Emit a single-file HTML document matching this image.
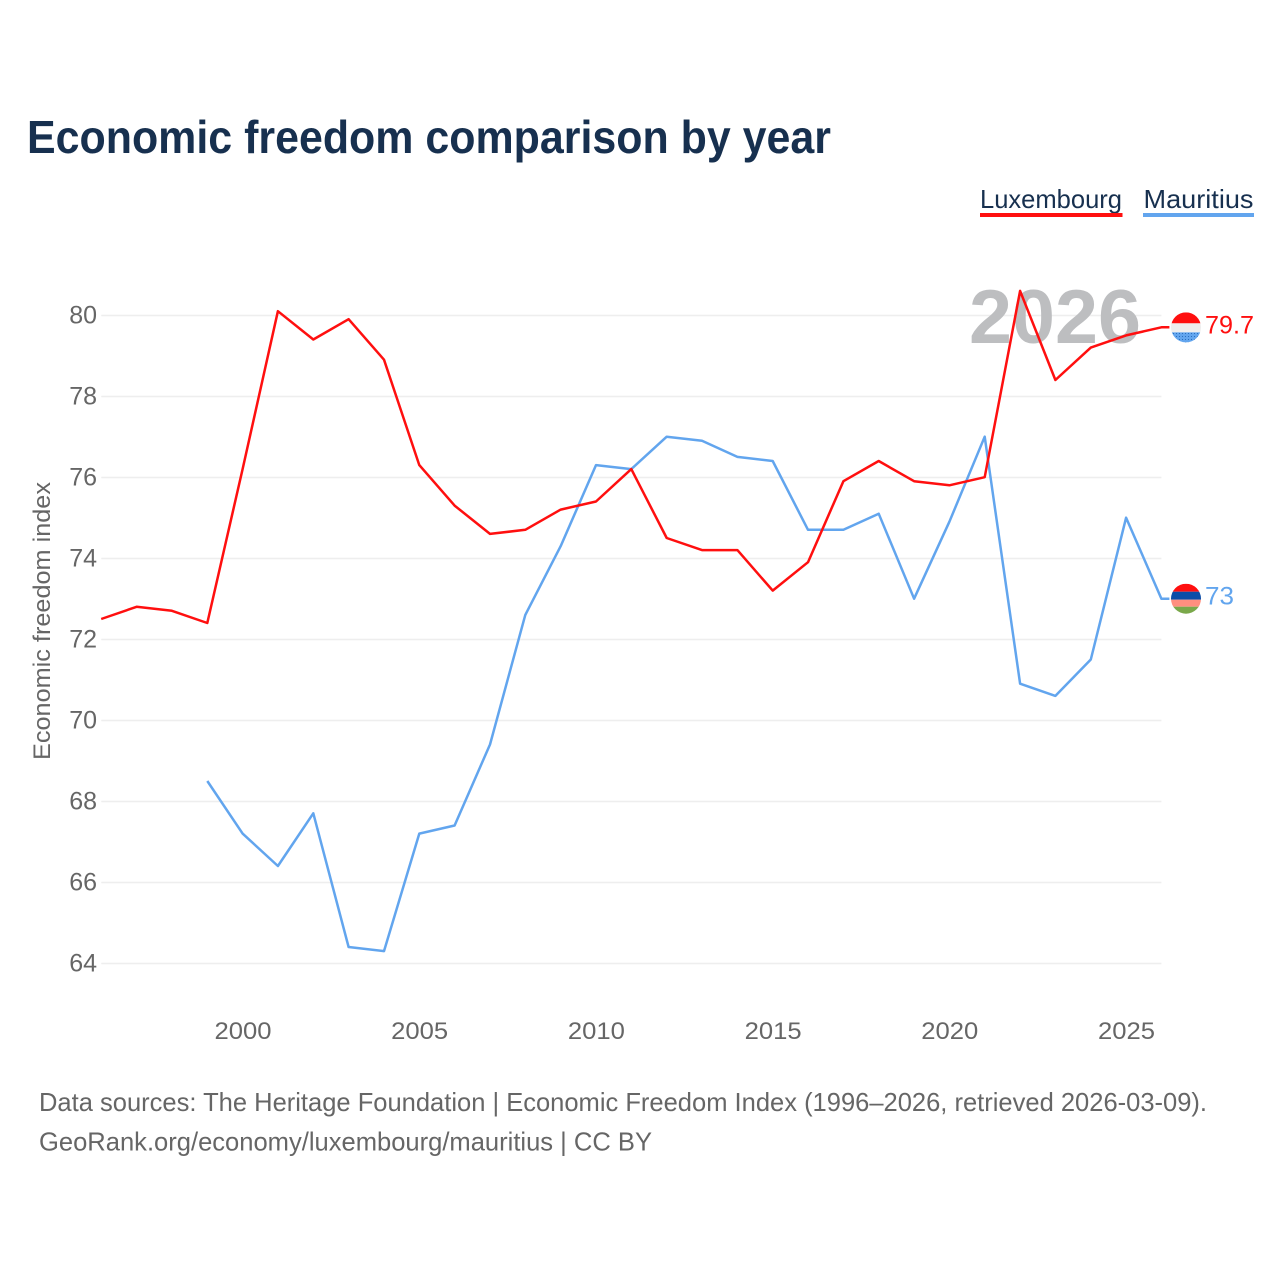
<!DOCTYPE html>
<html lang="en">
<head>
<meta charset="utf-8">
<title>Economic freedom comparison by year</title>
<style>
html,body{margin:0;padding:0;background:#fff;width:1280px;height:1280px;overflow:hidden}
svg{display:block}
text{font-family:"Liberation Sans",sans-serif}
</style>
</head>
<body>
<svg id="chart" xmlns="http://www.w3.org/2000/svg" width="1280" height="1280" viewBox="0 0 1280 1280">
  <defs>
    <clipPath id="flag-clip-lu"><circle id="clip-lu" cx="1186" cy="327" r="15"/></clipPath>
    <clipPath id="flag-clip-mu"><circle id="clip-mu" cx="1186" cy="598" r="15"/></clipPath>
    <pattern id="dots" width="3" height="3" patternUnits="userSpaceOnUse"><rect width="3" height="3" fill="#62a5ee"/><rect width="1" height="1" fill="#2a6fbf"/></pattern>
  </defs>
  <rect width="1280" height="1280" fill="#fff"/>
  <text x="27" y="153" font-size="46" font-weight="700" fill="#17304f" textLength="804" lengthAdjust="spacingAndGlyphs">Economic freedom comparison by year</text>

  <text x="980" y="208" font-size="26" fill="#17304f" textLength="142" lengthAdjust="spacingAndGlyphs">Luxembourg</text>
  <rect x="980" y="213" width="142.500" height="4" fill="#ff0f0f"/>
  <text x="1143.500" y="208" font-size="26" fill="#17304f" textLength="110" lengthAdjust="spacingAndGlyphs">Mauritius</text>
  <rect x="1143" y="213" width="111" height="4" fill="#62a5ee"/>

  <g id="grid"></g>
  <text x="969" y="343" font-size="76" font-weight="700" fill="#bdbec0" textLength="172" lengthAdjust="spacingAndGlyphs">2026</text>
  <g id="y-ticks"></g>
  <g id="x-ticks"></g>
  <text transform="translate(50 621) rotate(-90)" text-anchor="middle" font-size="24" fill="#666" textLength="278" lengthAdjust="spacingAndGlyphs">Economic freedom index</text>

  <polyline id="line-mu" fill="none" stroke="#62a5ee" stroke-width="2.500" stroke-linejoin="round"/>
  <polyline id="line-lu" fill="none" stroke="#ff0f0f" stroke-width="2.500" stroke-linejoin="round"/>

  <g id="flag-lu" clip-path="url(#flag-clip-lu)">
    <rect id="lu-a" x="1171" width="30" height="11" fill="#ff0f0f"/>
    <rect id="lu-b" x="1171" width="30" height="9" fill="#eeeeee"/>
    <rect id="lu-c" x="1171" width="30" height="11" fill="url(#dots)"/>
  </g>
  <text id="label-lu" x="1205" font-size="25" fill="#ff0f0f" textLength="49" lengthAdjust="spacingAndGlyphs"></text>

  <g id="flag-mu" clip-path="url(#flag-clip-mu)">
    <rect id="mu-a" x="1171" width="30" height="8" fill="#ff0f0f"/>
    <rect id="mu-b" x="1171" width="30" height="8" fill="#0b4da8"/>
    <rect id="mu-c" x="1171" width="30" height="7" fill="#ff8f7f"/>
    <rect id="mu-d" x="1171" width="30" height="8" fill="#7aa84a"/>
  </g>
  <text id="label-mu" x="1205" font-size="25" fill="#62a5ee" textLength="29" lengthAdjust="spacingAndGlyphs"></text>

  <text x="39" y="1111" font-size="26" fill="#666" textLength="1168" lengthAdjust="spacingAndGlyphs">Data sources: The Heritage Foundation | Economic Freedom Index (1996–2026, retrieved 2026-03-09).</text>
  <text x="39" y="1150.500" font-size="26" fill="#666" textLength="613" lengthAdjust="spacingAndGlyphs">GeoRank.org/economy/luxembourg/mauritius | CC BY</text>
</svg>
<script>
const years = [1996,1997,1998,1999,2000,2001,2002,2003,2004,2005,2006,2007,2008,2009,2010,2011,2012,2013,2014,2015,2016,2017,2018,2019,2020,2021,2022,2023,2024,2025,2026];
const luxembourg = [72.5,72.8,72.7,72.4,76.2,80.1,79.4,79.9,78.9,76.3,75.3,74.6,74.7,75.2,75.4,76.2,74.5,74.2,74.2,73.2,73.9,75.9,76.4,75.9,75.8,76.0,80.6,78.4,79.2,79.5,79.7];
const mauritius = [null,null,null,68.5,67.2,66.4,67.7,64.4,64.3,67.2,67.4,69.4,72.6,74.3,76.3,76.2,77.0,76.9,76.5,76.4,74.7,74.7,75.1,73.0,74.9,77.0,70.9,70.6,71.5,75.0,73.0];
const yTicks = [64,66,68,70,72,74,76,78,80];
const xTicks = [2000,2005,2010,2015,2020,2025];

const NS = 'http://www.w3.org/2000/svg';
const xScale = function (year) { return 242.6 + (year - 2000) * 35.34; };
const yScale = function (value) { return 315.2 + (80 - value) * 40.5; };

const grid = document.getElementById('grid');
const yGroup = document.getElementById('y-ticks');
const xGroup = document.getElementById('x-ticks');

yTicks.forEach(function (t) {
  const line = document.createElementNS(NS, 'line');
  
  
  line.setAttribute('x1', xScale(1996));
  line.setAttribute('x2', xScale(2026));
  line.setAttribute('y1', yScale(t) + 0.3);
  line.setAttribute('y2', yScale(t) + 0.3);
  line.setAttribute('stroke', '#eeeeee');
  line.setAttribute('stroke-width', '1.6');
  grid.appendChild(line);

  const label = document.createElementNS(NS, 'text');
  
  
  label.setAttribute('x', 97);
  label.setAttribute('y', yScale(t) + 8.3);
  label.setAttribute('text-anchor', 'end');
  label.setAttribute('font-size', '25');
  label.setAttribute('fill', '#666');
  label.textContent = t;
  yGroup.appendChild(label);
});

xTicks.forEach(function (t) {
  const label = document.createElementNS(NS, 'text');
  
  
  label.setAttribute('x', xScale(t) + 0.4);
  label.setAttribute('y', 1039);
  label.setAttribute('text-anchor', 'middle');
  label.setAttribute('font-size', '24');
  label.setAttribute('fill', '#666');
  label.setAttribute('textLength', '57');
  label.setAttribute('lengthAdjust', 'spacingAndGlyphs');
  label.textContent = t;
  xGroup.appendChild(label);
});

function seriesPoints(values) {
  const pts = [];
  values.forEach(function (v, i) {
    if (v !== null) { pts.push(xScale(years[i]).toFixed(1) + ',' + yScale(v).toFixed(1)); }
  });
  const last = values[values.length - 1];
  pts.push((xScale(years[years.length - 1]) + 8).toFixed(1) + ',' + yScale(last).toFixed(1));
  return pts.join(' ');
}

document.getElementById('line-lu').setAttribute('points', seriesPoints(luxembourg));
document.getElementById('line-mu').setAttribute('points', seriesPoints(mauritius));

function placeEnd(values, clipId, stripeIds, labelId) {
  const last = values[values.length - 1];
  const cy = yScale(last);
  document.getElementById(clipId).setAttribute('cy', cy);
  let top = cy - 15;
  stripeIds.forEach(function (id) {
    const r = document.getElementById(id);
    r.setAttribute('y', top);
    top += Number(r.getAttribute('height'));
  });
  const label = document.getElementById(labelId);
  label.setAttribute('y', cy + 6);
  label.textContent = last;
}

placeEnd(luxembourg, 'clip-lu', ['lu-a', 'lu-b', 'lu-c'], 'label-lu');
placeEnd(mauritius, 'clip-mu', ['mu-a', 'mu-b', 'mu-c', 'mu-d'], 'label-mu');
</script>
</body>
</html>
